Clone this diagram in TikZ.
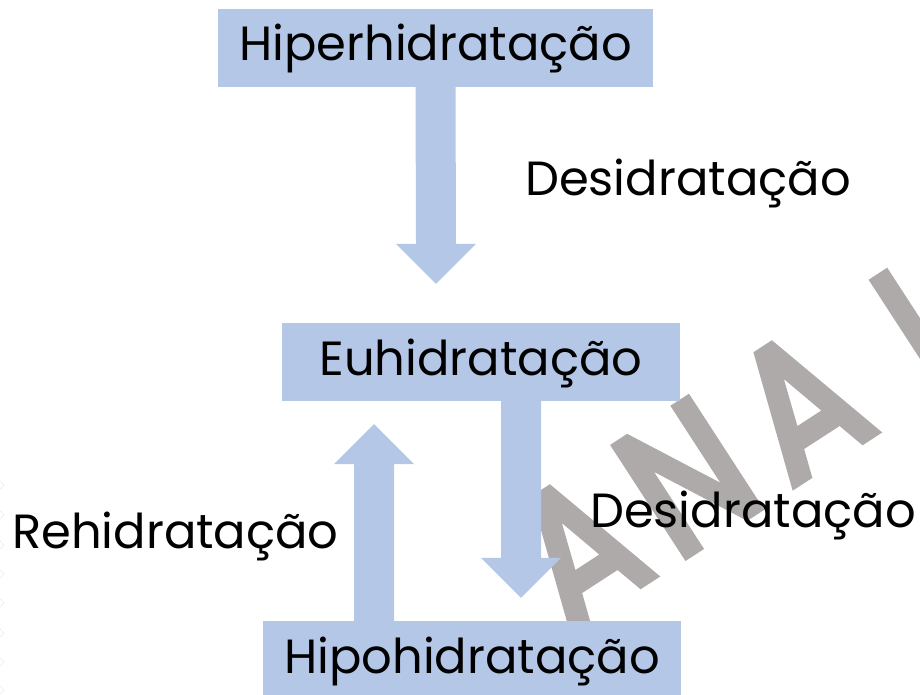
\documentclass[tikz,border=0pt]{standalone}
\usepackage{fontspec}
\setmainfont{Poppins}
\newfontfamily\wmfont[FakeBold=5]{Poppins}
\usetikzlibrary{calc}
\definecolor{boxblue}{HTML}{B4C7E7}
\definecolor{wmgrey}{HTML}{AEAAAA}
\definecolor{dotgrey}{HTML}{D4D4D4}
\tikzset{
  stagebox/.style={fill=boxblue, inner sep=0pt, minimum height=78pt, text height=33pt, text depth=7pt, font=\fontsize{48}{58}\selectfont},
  steplabel/.style={inner sep=0pt, anchor=base west, font=\fontsize{48}{58}\selectfont},
  blockarrow/.style={fill=boxblue},
  wmletter/.style={text=wmgrey, inner sep=0pt, rotate=33, xscale=0.85, font=\wmfont\fontsize{185}{200}\selectfont}
}
\begin{document}
\begin{tikzpicture}[x=1pt,y=-1pt]
\useasboundingbox (0,0) rectangle (920,695);
\clip (0,0) rectangle (920,695);
% watermark letters (behind everything)
\node[wmletter, anchor=north] (wmA1) at (543,494) {A};
\node[wmletter, anchor=north] (wmN) at (652,423) {N};
\node[wmletter, anchor=north] (wmA2) at (765,350) {A};
\node[wmletter, anchor=north west] (wmL) at (864,288) {L};
% edge dots
\foreach \yy in {485,515,545,574,603,633,662,690}
  \draw[dotgrey, densely dotted, line width=0.6pt] (0,\yy) circle (3.5);
% boxes
\node[stagebox, minimum width=435pt] (hiper) at (435.5,48) {Hiperhidratação};
\node[stagebox, minimum width=398pt] (eu) at (481,362) {Euhidratação};
\node[stagebox, minimum width=418pt] (hipo) at (472,660) {Hipohidratação};
% arrow endpoints
\coordinate (s1) at (hiper.south);
\coordinate (t1) at ($(eu.north)+(-45,-39)$);
\coordinate (s2) at ($(eu.south)+(40,0)$);
\coordinate (t2) at ($(hipo.north)+(49,-23)$);
\coordinate (s3) at ($(hipo.north)+(-98,0)$);
\coordinate (t3) at ($(eu.south)+(-107,23)$);
% down arrow 1
\fill[blockarrow] ($(s1)+(-20,0)$) -- ($(t1)+(-20,-40)$) -- ($(t1)+(-40,-40)$) -- (t1)
  -- ($(t1)+(40,-40)$) -- ($(t1)+(20,-40)$) -- ($(s1)+(20,0)$) -- cycle;
% down arrow 2
\fill[blockarrow] ($(s2)+(-20,0)$) -- ($(t2)+(-20,-40)$) -- ($(t2)+(-40,-40)$) -- (t2)
  -- ($(t2)+(40,-40)$) -- ($(t2)+(20,-40)$) -- ($(s2)+(20,0)$) -- cycle;
% up arrow 3
\fill[blockarrow] ($(s3)+(-20,0)$) -- ($(t3)+(-20,40)$) -- ($(t3)+(-40,40)$) -- (t3)
  -- ($(t3)+(40,40)$) -- ($(t3)+(20,40)$) -- ($(s3)+(20,0)$) -- cycle;
% labels
\node[steplabel] (lbl1) at (525,195) {Desidratação};
\node[steplabel] (lbl2) at (590,527) {Desidratação};
\node[steplabel] (lbl3) at (12,548) {Rehidratação};
\end{tikzpicture}
\end{document}
